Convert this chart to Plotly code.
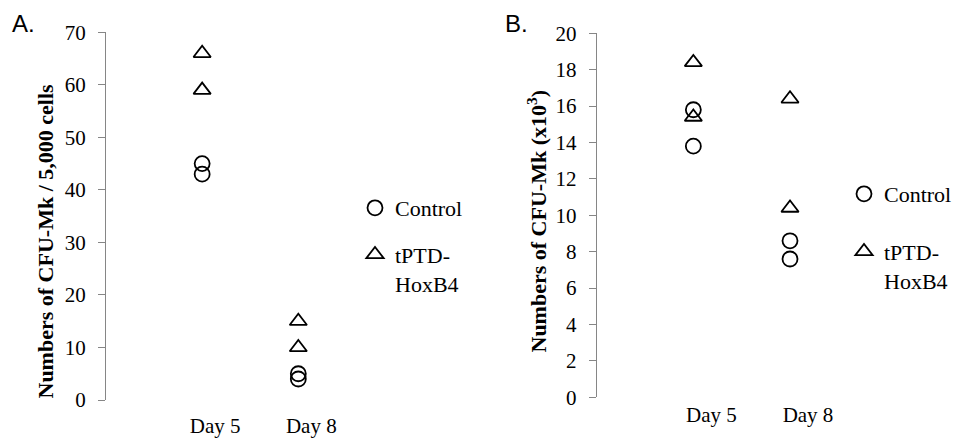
import plotly.graph_objects as go

days = ["Day 5", "Day 8"]
point_days = ["Day 5", "Day 5", "Day 8", "Day 8"]

a_control = [45, 43, 5, 4]
a_hoxb4 = [66, 59, 15, 10]
b_control = [15.8, 13.8, 8.6, 7.6]
b_hoxb4 = [18.4, 15.4, 16.4, 10.4]

a_yticks = list(range(0, 71, 10))
b_yticks = list(range(0, 21, 2))

series_names = ["Control", "tPTD-<br>HoxB4"]
a_title = "<b>Numbers of CFU-Mk / 5,000 cells</b>"
b_title = "<b>Numbers of CFU-Mk (x10<sup>3</sup>)</b>"

SERIF = "Liberation Serif"
SANS = "Liberation Sans"
AXIS_GRAY = "#868686"
W, H = 963, 443

fig = go.Figure()

def add_panel(xa, ya, leg, control, hox):
    fig.add_trace(go.Scatter(
        x=point_days, y=control, mode="markers", name=series_names[0],
        xaxis=xa, yaxis=ya, legend=leg, legendgroup=leg + "c",
        marker=dict(symbol="circle-open", size=15, color="black",
                    line=dict(width=1.8, color="black")),
        hoverinfo="skip"))
    fig.add_trace(go.Scatter(
        x=point_days, y=hox, mode="markers", name=series_names[1],
        xaxis=xa, yaxis=ya, legend=leg, legendgroup=leg + "h",
        marker=dict(symbol="triangle-up-open", size=15, color="black",
                    line=dict(width=1.8, color="black")),
        hoverinfo="skip"))

add_panel("x", "y", "legend", a_control, a_hoxb4)
add_panel("x2", "y2", "legend2", b_control, b_hoxb4)

def xaxis(domain, anchor, shift, standoff):
    return dict(domain=domain, anchor=anchor, type="category",
                categoryorder="array", categoryarray=days,
                range=[-1, 1.6], showline=False, showgrid=False,
                zeroline=False, ticks="", ticklabelshift=shift,
                ticklabelstandoff=standoff, automargin=False,
                tickfont=dict(family=SERIF, size=21, color="black"))

def yaxis(domain, anchor, rng, ticks):
    return dict(domain=domain, anchor=anchor, range=rng, tickvals=ticks,
                showline=True, linecolor=AXIS_GRAY, linewidth=1,
                ticks="outside", ticklen=7, tickcolor=AXIS_GRAY,
                showgrid=False, zeroline=False, ticklabelstandoff=8,
                automargin=False,
                tickfont=dict(family=SERIF, size=21, color="black"))

def text_note(text, x, y, size, family, bold_angle=0):
    return dict(text=text, x=x / W, y=1 - y / H, xref="paper", yref="paper",
                xanchor="center", yanchor="middle", showarrow=False,
                textangle=bold_angle,
                font=dict(family=family, size=size, color="black"))

fig.update_layout(
    width=W, height=H,
    margin=dict(l=0, r=0, t=0, b=0, pad=0, autoexpand=False),
    paper_bgcolor="white", plot_bgcolor="white",
    xaxis=xaxis([98 / W, 348 / W], "y", 13, 11),
    xaxis2=xaxis([588.7 / W, 840 / W], "y2", 18, 3),
    yaxis=yaxis([1 - 392 / H, 1 - 24.3 / H], "x", [0, 70], a_yticks),
    yaxis2=yaxis([1 - 389.3 / H, 1 - 25.3 / H], "x2", [0, 20], b_yticks),
    legend=dict(x=347 / W, y=1 - 179 / H, xanchor="left", yanchor="top",
                traceorder="grouped", tracegroupgap=15, valign="top",
                bgcolor="rgba(0,0,0,0)",
                font=dict(family=SERIF, size=22, color="black")),
    legend2=dict(x=836 / W, y=1 - 165 / H, xanchor="left", yanchor="top",
                 traceorder="grouped", tracegroupgap=26, valign="top",
                 bgcolor="rgba(0,0,0,0)",
                 font=dict(family=SERIF, size=22, color="black")),
    annotations=[
        text_note("A.", 15, 15, 24, SANS),
        text_note("B.", 508, 15, 24, SANS),
        text_note(a_title, 37.5, 233, 22, SERIF, -90),
        text_note(b_title, 528, 213.5, 22, SERIF, -90),
    ],
)

fig.write_html("out.html")
